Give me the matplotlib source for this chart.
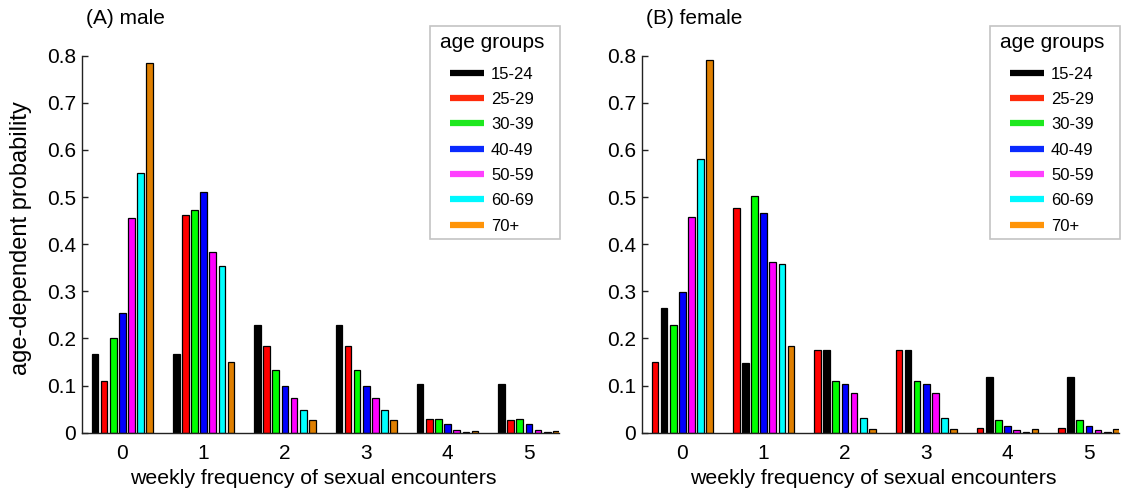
import matplotlib
matplotlib.use("Agg")
import matplotlib.pyplot as plt
from matplotlib.lines import Line2D
from matplotlib.patches import Rectangle
import numpy as np

plt.rcParams["font.family"] = ["Liberation Sans", "DejaVu Sans"]

# weekly frequency categories and age groups
frequencies = [0, 1, 2, 3, 4, 5]
age_groups = ["15-24", "25-29", "30-39", "40-49", "50-59", "60-69", "70+"]

# male, age-dependent probability per weekly frequency
male_15_24 = [0.167, 0.167, 0.229, 0.229, 0.104, 0.104]
male_25_29 = [0.109, 0.463, 0.185, 0.185, 0.029, 0.028]
male_30_39 = [0.200, 0.473, 0.134, 0.134, 0.029, 0.029]
male_40_49 = [0.254, 0.510, 0.099, 0.099, 0.018, 0.018]
male_50_59 = [0.456, 0.383, 0.074, 0.074, 0.005, 0.005]
male_60_69 = [0.551, 0.354, 0.048, 0.048, 0.001, 0.001]
male_70p = [0.785, 0.150, 0.028, 0.028, 0.004, 0.004]

# female, age-dependent probability per weekly frequency
female_15_24 = [0.265, 0.147, 0.176, 0.176, 0.118, 0.118]
female_25_29 = [0.151, 0.477, 0.176, 0.176, 0.010, 0.010]
female_30_39 = [0.228, 0.502, 0.109, 0.109, 0.026, 0.026]
female_40_49 = [0.298, 0.466, 0.104, 0.104, 0.014, 0.014]
female_50_59 = [0.457, 0.362, 0.084, 0.084, 0.005, 0.006]
female_60_69 = [0.580, 0.359, 0.031, 0.031, 0.001, 0.001]
female_70p = [0.790, 0.183, 0.007, 0.007, 0.007, 0.007]

male_series = [male_15_24, male_25_29, male_30_39, male_40_49,
               male_50_59, male_60_69, male_70p]
female_series = [female_15_24, female_25_29, female_30_39, female_40_49,
                 female_50_59, female_60_69, female_70p]

# bar slot of each age group inside a frequency cluster
male_slots = [0, 1, 2, 3, 4, 5, 6]
female_slots = [1, 0, 2, 3, 4, 5, 6]

bar_colors = ["#000000", "#ff0000", "#00ff00", "#0000ff",
              "#ff00ff", "#00ffff", "#df7f00"]
legend_colors = ["#000000", "#ff2a0a", "#1ee81e", "#0a2aff",
                 "#ff40ff", "#00f8ff", "#ff9408"]

W, H = 1122, 490
fig = plt.figure(figsize=(W / 100, H / 100), dpi=100)
ax_m = fig.add_axes([81.7 / W, 57.3 / H, 477.3 / W, 377 / H])
ax_f = fig.add_axes([641.7 / W, 57.3 / H, 477.3 / W, 377 / H])

pitch = 0.1125
bar_w = 0.082
x = np.array(frequencies, dtype=float)

LEG_RIGHT = 0.9476   # right edge of the legend entries, axes fraction
LEG_TOP = 1.060


def draw_panel(ax, series, slots, title):
    for vals, slot, col in zip(series, slots, bar_colors):
        ax.bar(x + (slot - 3) * pitch, vals, width=bar_w, color=col,
               edgecolor="black", linewidth=0.9, zorder=2)
    ax.set_xlim(-0.5, 5.37)
    ax.set_ylim(0, 0.8)
    ax.set_xticks(frequencies)
    ax.set_xticklabels([str(f) for f in frequencies])
    yt = np.round(np.arange(0, 0.81, 0.1), 1)
    ax.set_yticks(yt)
    ax.set_yticklabels(["0"] + [f"{v:.1f}" for v in yt[1:]])
    for s in ("top", "right"):
        ax.spines[s].set_visible(False)
    for s in ("left", "bottom"):
        ax.spines[s].set_linewidth(1.0)
        ax.spines[s].set_color("#222222")
    ax.tick_params(axis="y", direction="in", length=4, width=1,
                   labelsize=15, pad=4, colors="#222222", labelcolor="black")
    ax.tick_params(axis="x", length=0, labelsize=15, pad=8)
    ax.set_xlabel("weekly frequency of sexual encounters", fontsize=15.3)
    ax.xaxis.set_label_coords(0.485, -0.095)
    ax.text(0.009, 1.10, title, transform=ax.transAxes, ha="left",
            va="center", fontsize=15)

    handles = [Line2D([], [], color=c, lw=4.5, solid_capstyle="butt")
               for c in legend_colors]
    leg = ax.legend(handles, age_groups, title="age groups",
                    loc="upper right", bbox_to_anchor=(LEG_RIGHT, LEG_TOP),
                    bbox_transform=ax.transAxes, frameon=False,
                    borderpad=0, borderaxespad=0, handlelength=2.0,
                    handletextpad=0.44, labelspacing=0.62,
                    fontsize=12, title_fontsize=15)
    leg._legend_box.sep += 3
    return leg


leg_m = draw_panel(ax_m, male_series, male_slots, "(A) male")
leg_f = draw_panel(ax_f, female_series, female_slots, "(B) female")

ax_m.set_ylabel("age-dependent probability", fontsize=17)
ax_m.yaxis.set_label_coords(-0.104, 0.516)

# align the right edge of the entry block, then frame the legend with
# wider horizontal than vertical padding
fig.canvas.draw()
renderer = fig.canvas.get_renderer()
for ax, leg in ((ax_m, leg_m), (ax_f, leg_f)):
    hb = leg._legend_handle_box.get_window_extent(renderer)
    right_ax = ax.transAxes.inverted().transform((hb.x1, hb.y1))[0]
    leg.set_bbox_to_anchor((LEG_RIGHT + (LEG_RIGHT - right_ax), LEG_TOP),
                           transform=ax.transAxes)

fig.canvas.draw()
inv = fig.transFigure.inverted()
for ax, leg in ((ax_m, leg_m), (ax_f, leg_f)):
    bb = leg.get_window_extent(renderer)
    hb = leg._legend_handle_box.get_window_extent(renderer)
    x0, y0 = inv.transform((hb.x0 - 20.6, bb.y0 - 5))
    x1, y1 = inv.transform((hb.x1 + 26, bb.y1 + 7))
    frame = Rectangle((x0, y0), x1 - x0, y1 - y0, transform=fig.transFigure,
                      facecolor="white", edgecolor="#c4c4c4", linewidth=1.2,
                      zorder=4, clip_on=False)
    ax.add_patch(frame)

fig.savefig("out.png", dpi=100)
